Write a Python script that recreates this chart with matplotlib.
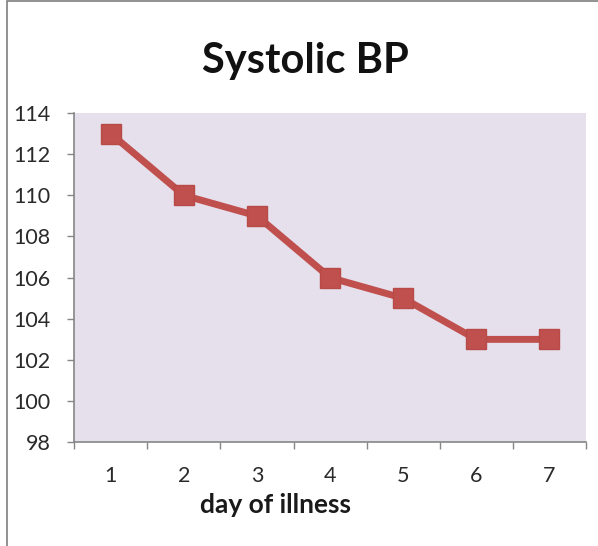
import matplotlib
matplotlib.use("Agg")
import matplotlib.pyplot as plt
from matplotlib.patches import Rectangle

days = [1, 2, 3, 4, 5, 6, 7]
systolic = [113, 110, 109, 106, 105, 103, 103]
y_ticks = [98, 100, 102, 104, 106, 108, 110, 112, 114]

plt.rcParams['font.family'] = ['Lato', 'DejaVu Sans']

fig = plt.figure(figsize=(5.98, 5.46), dpi=100)
ax = fig.add_axes([0.124, 0.190, 0.856, 0.603])

ax.set_facecolor('#E5E0EC')
ax.plot(days, systolic, color='#C0504D', linewidth=5, marker='s',
        markersize=14, markerfacecolor='#C0504D', markeredgecolor='#B84A47',
        solid_joinstyle='miter')

ax.set_xlim(0.5, 7.5)
ax.set_ylim(98, 114)
ax.set_yticks(y_ticks)
ax.set_yticklabels([str(v) for v in y_ticks])

# category ticks: labels at centres, tick marks at category boundaries
ax.set_xticks(days)
ax.set_xticklabels([str(d) for d in days])
ax.tick_params(axis='x', which='major', length=0, pad=17)
ax.set_xticks([d + 0.5 for d in [0] + days], minor=True)
ax.tick_params(axis='x', which='minor', length=5, width=1, color='#868686',
               direction='out')
ax.tick_params(axis='y', length=5, width=1, color='#868686', direction='out',
               pad=12)
ax.tick_params(labelsize=15.5, labelcolor='#2a2a2a')

for side in ('top', 'right'):
    ax.spines[side].set_visible(False)
for side in ('left', 'bottom'):
    ax.spines[side].set_color('#868686')
    ax.spines[side].set_linewidth(1.2)

ax.set_xlabel('day of illness', fontsize=19, fontweight='bold',
              color='#1a1a1a')
ax.xaxis.set_label_coords(0.393, -0.155)
fig.text(0.510, 0.866, 'Systolic BP', ha='center', va='baseline',
         fontsize=30, fontweight='bold', color='#111111')

# outer chart frame
fig.add_artist(Rectangle((0.012, -0.01), 1.2, 1.008, transform=fig.transFigure,
                         fill=False, edgecolor='#7f7f7f', linewidth=1.2))

fig.savefig('out.png', dpi=100, facecolor='white')
